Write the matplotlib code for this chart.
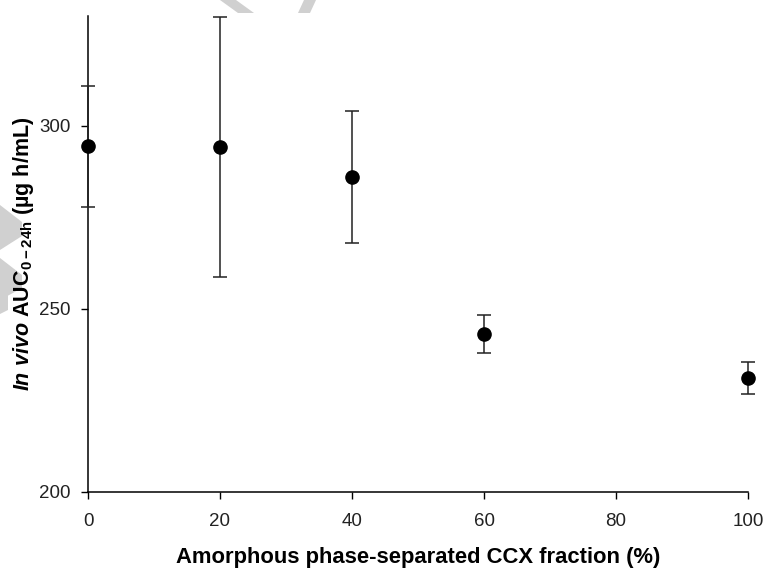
import numpy as np
import matplotlib
matplotlib.use('Agg')
import matplotlib.pyplot as plt
from matplotlib.patches import Polygon

plt.rcParams['font.family'] = ['Liberation Sans', 'DejaVu Sans']
plt.rcParams['mathtext.fontset'] = 'custom'
plt.rcParams['mathtext.rm'] = 'Liberation Sans:bold'
plt.rcParams['mathtext.it'] = 'Liberation Sans:bold:italic'
plt.rcParams['mathtext.bf'] = 'Liberation Sans:bold'

# fraccion amorfa (%) y AUC in vivo
fraction = [0, 20, 40, 60, 100]
auc = [294.3, 294.2, 286.0, 243.0, 231.0]
auc_err = [16.5, 35.5, 18.0, 5.1, 4.4]

x_ticks = [0, 20, 40, 60, 80, 100]
y_ticks = [200, 250, 300]

fig = plt.figure(figsize=(7.64, 5.69), dpi=100)

# marca de agua gris de fondo
wm = '#d0d0d0'
for pts in [[(220, 0), (236, 0), (254, 13), (238, 13)],
            [(298, 13), (304, 0), (316, 0), (310, 13)],
            [(0, 205), (22, 222), (22, 236), (0, 250)],
            [(0, 258), (22, 275), (22, 288), (0, 300)],
            [(0, 280), (8, 284), (8, 310), (0, 314)]]:
    fig.patches.append(Polygon([(x / 764, 1 - y / 569) for x, y in pts],
                               closed=True, transform=fig.transFigure,
                               facecolor=wm, edgecolor='none', zorder=-5))

ax = fig.add_axes([88 / 764, 1 - 491.5 / 569, 660 / 764, 475.8 / 569])
ax.patch.set_alpha(0)

ax.errorbar(fraction, auc, yerr=auc_err, fmt='o', color='black',
            markersize=9.5, ecolor='#222222', elinewidth=1.1,
            capsize=5, capthick=1.1, clip_on=False, zorder=3)

ax.set_xlim(0, 100)
ax.set_ylim(200, 330)
ax.set_xticks(x_ticks)
ax.set_yticks(y_ticks)
ax.spines['top'].set_visible(False)
ax.spines['right'].set_visible(False)
for s in ['left', 'bottom']:
    ax.spines[s].set_linewidth(1.1)
ax.tick_params(direction='out', length=5, width=1.0, labelsize=13.5,
               labelcolor='#222222')
ax.tick_params(axis='x', pad=10.5)
ax.tick_params(axis='y', pad=7.5)

ax.set_xlabel('Amorphous phase-separated CCX fraction (%)',
              fontsize=15.8, fontweight='bold', labelpad=12)
ax.set_ylabel(r'$\mathit{In\ vivo}$ AUC$_{\mathrm{0-24h}}$ (µg h/mL)',
              fontsize=15.5, fontweight='bold', labelpad=2)

fig.savefig('out.png', dpi=100)
